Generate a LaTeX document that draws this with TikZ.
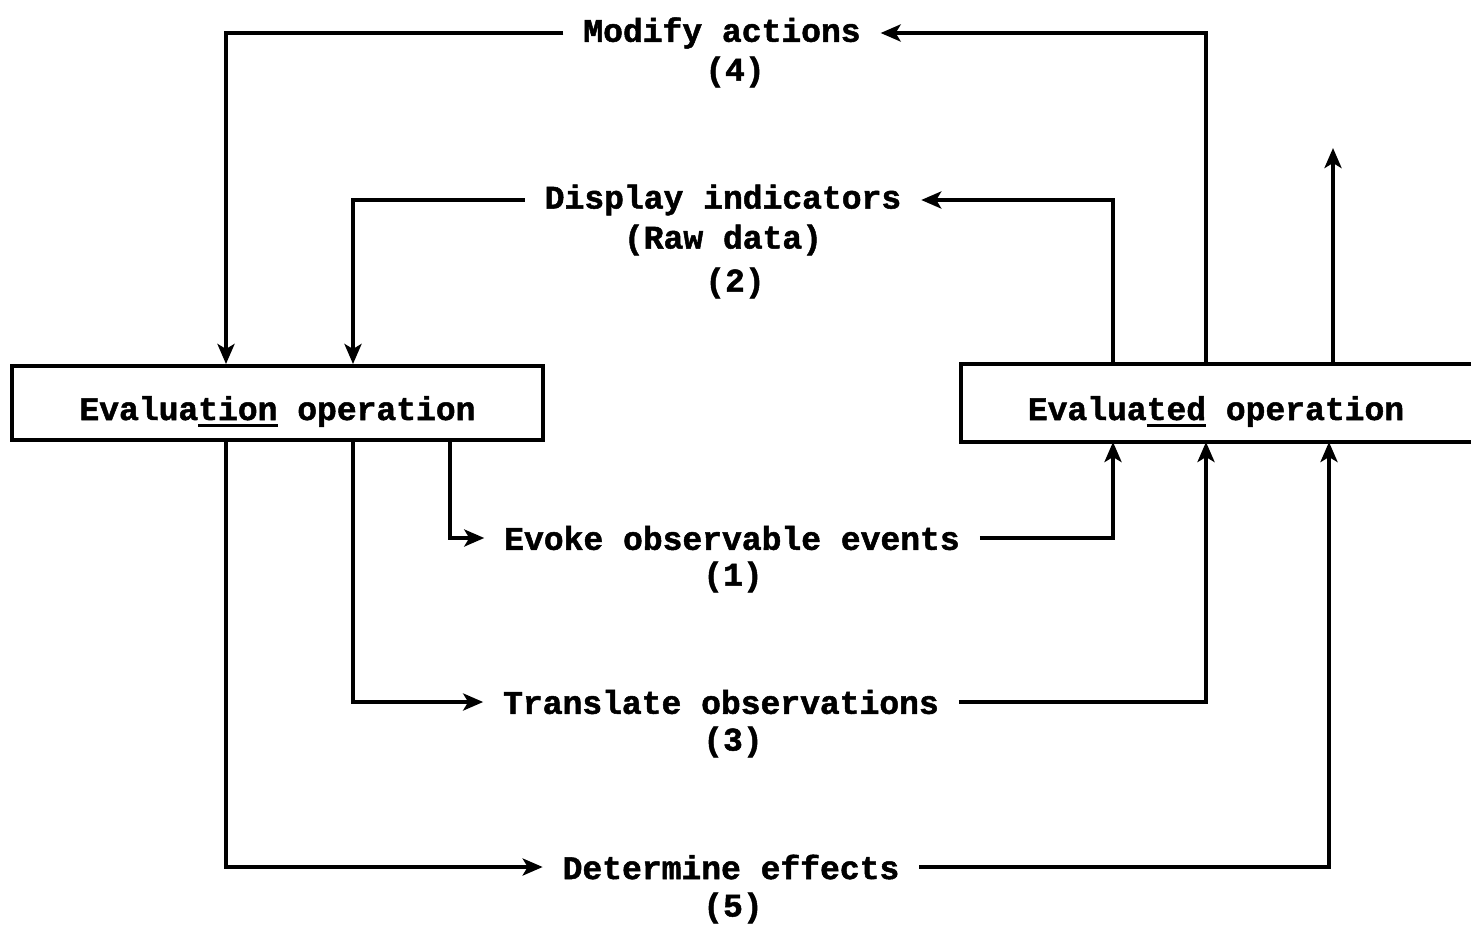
\documentclass[tikz,border=0pt]{standalone}
\usepackage{fontspec}
\setmainfont{Liberation Mono}[BoldFeatures={FakeBold=1.5}]
\usetikzlibrary{arrows.meta}
\newcommand{\tkul}[1]{\leavevmode\setbox0=\hbox{#1}\rlap{\rule[-7pt]{\wd0}{3pt}}\box0\relax}

\begin{document}
\begin{tikzpicture}[x=1pt,y=-1pt,line width=4pt,
    lbl/.style={font=\fontsize{33}{42}\selectfont\bfseries, inner sep=0pt, inner xsep=18pt},
    box/.style={font=\fontsize{33}{42}\selectfont\bfseries, minimum height=74pt, inner sep=0pt, text height=34pt, text depth=0pt},
    arr/.style={-{Stealth[length=20pt,width=17pt,inset=5pt]}}]
    \useasboundingbox (0,0) rectangle (1471,929);
    % the two operations
    \node[box, draw, minimum width=531pt] (eval) at (277.5,403) {Evalua\tkul{tion} operation};
    \node[box, minimum width=506pt] (evald) at (1216,403) {Evalua\tkul{ted} operation};
    \draw ([xshift=4pt]evald.north east) -- (evald.north west) -- (evald.south west) -- ([xshift=4pt]evald.south east);
    % steps
    \node[lbl] (modify) at (722,33) {Modify actions};
    \node[lbl] (n4) at (735,72) {(4)};
    \node[lbl] (display) at (723,200) {Display indicators};
    \node[lbl] (raw) at (723,240) {(Raw data)};
    \node[lbl] (n2) at (735,283) {(2)};
    \node[lbl] (evoke) at (732,538) {Evoke observable events};
    \node[lbl] (n1) at (733,577) {(1)};
    \node[lbl] (translate) at (721,702) {Translate observations};
    \node[lbl] (n3) at (733,742) {(3)};
    \node[lbl] (determine) at (731,867) {Determine effects};
    \node[lbl] (n5) at (733,908) {(5)};
    \coordinate (out) at (1333,148);
    % connectors
    \draw[arr] ([xshift=440pt]eval.south west) |- (evoke.west);
    \draw[arr] (evoke.east) -| ([xshift=152pt]evald.south west);
    \draw[arr] ([xshift=152pt]evald.north west) |- (display.east);
    \draw[arr] (display.west) -| ([xshift=343pt]eval.north west);
    \draw[arr] ([xshift=343pt]eval.south west) |- (translate.west);
    \draw[arr] (translate.east) -| ([xshift=245pt]evald.south west);
    \draw[arr] ([xshift=245pt]evald.north west) |- (modify.east);
    \draw[arr] (modify.west) -| ([xshift=216pt]eval.north west);
    \draw[arr] ([xshift=216pt]eval.south west) |- (determine.west);
    \draw[arr] (determine.east) -| ([xshift=368pt]evald.south west);
    \draw[arr] (evald.north -| out) -- (out);
\end{tikzpicture}
\end{document}
